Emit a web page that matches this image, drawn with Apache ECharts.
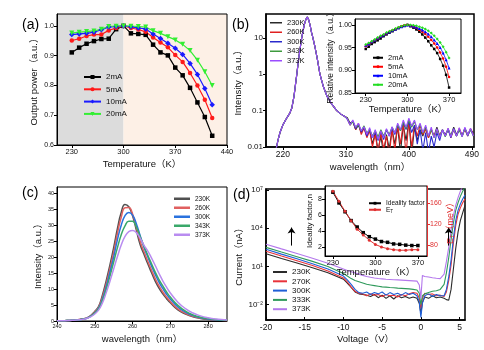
<!DOCTYPE html>
<html>
<head>
<meta charset="utf-8">
<script src="https://cdn.jsdelivr.net/npm/echarts@6/dist/echarts.min.js"></script>
<style>
html,body{margin:0;padding:0;background:#fff}
#main{width:484px;height:350px}
</style>
</head>
<body>
<div id="main"></div>
<script>
// (a) output power vs temperature
var aTemp = [230,240,250,260,270,280,290,300,310,320,330,340,350,360,370,380,390,400,410,420];
var aPow2 = [0.911,0.927,0.940,0.949,0.956,0.957,0.989,1.000,0.975,0.973,0.970,0.937,0.911,0.901,0.860,0.834,0.792,0.743,0.694,0.631];
var aPow5 = [0.951,0.957,0.966,0.971,0.971,0.985,0.993,1.000,0.993,0.988,0.980,0.961,0.944,0.928,0.902,0.879,0.842,0.800,0.752,0.691];
var aPow10 = [0.971,0.973,0.975,0.979,0.987,0.996,0.998,1.000,0.997,0.993,0.990,0.973,0.958,0.942,0.925,0.904,0.874,0.837,0.790,0.735];
var aPow20 = [0.976,0.979,0.981,0.983,0.989,0.998,0.999,1.000,0.999,0.998,0.996,0.984,0.975,0.964,0.953,0.938,0.917,0.885,0.846,0.800];

// (b) spectra, log scale: common peak part + noisy tail of each temperature
var bPeakWave = [210,213,216,220,225,230,233,236,238,240,243,245,247,249,251,253,255,257,259,261,263,266,269,273,278,283,290,297,303,309];
var bPeak = [0.008,0.015,0.025,0.04,0.06,0.085,0.12,0.25,0.5,1,3,5.5,10,16,24,32,37,31,22,14,10,5.5,2.8,1,0.45,0.25,0.15,0.1,0.08,0.068];
var bTailWave = [312,316,320,324,328,332,336,340,344,348,352,356,360,364,368,372,376,380,384,388,392,396,400,404,408,412,416,420,424,428,432,436,440,444,448,452,456,460,464,468,472,476,480,484,488,492];
var bTail230 = [0.065,0.045,0.05,0.03,0.04,0.025,0.035,0.02,0.03,0.012,0.025,0.008,0.02,0.006,0.022,0.009,0.03,0.012,0.035,0.007,0.04,0.015,0.05,0.006,0.035,0.015,0.03,0.02,0.035,0.018,0.03,0.02,0.035,0.02,0.028,0.022,0.03,0.02,0.035,0.022,0.03,0.02,0.033,0.022,0.03,0.025];
var bTail260 = [0.06,0.04,0.052,0.03,0.045,0.022,0.033,0.018,0.028,0.01,0.022,0.007,0.025,0.009,0.02,0.006,0.03,0.008,0.04,0.012,0.045,0.006,0.055,0.01,0.04,0.02,0.04,0.022,0.03,0.018,0.03,0.02,0.028,0.021,0.03,0.02,0.032,0.018,0.03,0.02,0.033,0.021,0.03,0.02,0.032,0.022];
var bTail300 = [0.058,0.042,0.05,0.032,0.042,0.026,0.035,0.02,0.03,0.018,0.026,0.015,0.028,0.016,0.03,0.02,0.033,0.022,0.04,0.028,0.045,0.03,0.05,0.025,0.04,0.012,0.03,0.008,0.025,0.007,0.02,0.01,0.025,0.015,0.03,0.02,0.03,0.018,0.032,0.02,0.03,0.02,0.033,0.02,0.03,0.022];
var bTail343 = [0.062,0.04,0.05,0.035,0.04,0.028,0.038,0.024,0.03,0.02,0.028,0.019,0.03,0.02,0.03,0.022,0.035,0.025,0.04,0.028,0.048,0.032,0.055,0.035,0.05,0.03,0.04,0.024,0.035,0.02,0.03,0.018,0.03,0.02,0.03,0.019,0.032,0.02,0.031,0.02,0.03,0.019,0.032,0.021,0.03,0.02];
var bTail373 = [0.06,0.04,0.055,0.035,0.045,0.028,0.036,0.022,0.034,0.018,0.03,0.016,0.028,0.018,0.032,0.02,0.036,0.024,0.045,0.03,0.055,0.035,0.062,0.038,0.055,0.03,0.045,0.025,0.04,0.02,0.035,0.018,0.032,0.018,0.03,0.02,0.033,0.019,0.032,0.02,0.034,0.019,0.035,0.021,0.033,0.02];

// (b) inset: relative intensity vs temperature
var biTemp = [230,235,240,245,250,255,260,265,270,275,280,285,290,295,300,305,310,315,320,325,330,335,340,345,350,355,360,365,370];
var bi2 = [0.947,0.952,0.958,0.962,0.966,0.970,0.975,0.979,0.983,0.986,0.990,0.993,0.996,0.998,1.000,0.997,0.994,0.990,0.985,0.979,0.972,0.964,0.955,0.947,0.938,0.925,0.910,0.890,0.862];
var bi5 = [0.953,0.957,0.962,0.966,0.970,0.974,0.978,0.981,0.985,0.988,0.991,0.994,0.997,0.999,1.000,0.998,0.996,0.993,0.989,0.985,0.980,0.974,0.967,0.959,0.950,0.939,0.926,0.908,0.885];
var bi10 = [0.955,0.958,0.963,0.967,0.971,0.975,0.978,0.982,0.985,0.988,0.991,0.994,0.996,0.998,1.000,0.999,0.997,0.995,0.992,0.989,0.985,0.980,0.974,0.967,0.959,0.950,0.938,0.923,0.905];
var bi20 = [0.957,0.960,0.964,0.968,0.972,0.976,0.979,0.983,0.986,0.989,0.992,0.995,0.997,0.999,1.000,1.000,0.999,0.998,0.996,0.994,0.991,0.987,0.982,0.976,0.969,0.961,0.952,0.940,0.927];

// (c) spectra, linear scale
var cWave = [240,242,244,246,247,248,249,250,251,252,253,254,255,256,257,258,259,260,261,262,263,264,265,266,267,268,269,270,272,274,276,278,280,282,285];
var c230 = [0.05,0.1,0.2,0.45,0.7,1.0,1.8,3.0,4.5,8.0,12.5,17.5,23,29,34,36.5,35.8,33,28.5,24,21,18,15.2,12.5,10.3,8.5,7,5.7,3.5,2.2,1.3,0.8,0.5,0.3,0.15];
var c260 = [0.05,0.1,0.2,0.45,0.7,1.0,1.7,2.8,4.3,7.4,11.5,16.3,21.5,27.5,32.5,35.5,35.6,33.5,29.5,25,21.8,18.8,16,13.3,11,9.1,7.5,6.1,3.8,2.4,1.45,0.9,0.55,0.35,0.18];
var c300 = [0.05,0.1,0.2,0.42,0.65,0.95,1.6,2.6,4.0,6.8,10.6,15.2,20,25.5,30,33,34,33.2,30.5,26.8,23.2,20.2,17.3,14.6,12.2,10.2,8.4,6.9,4.4,2.8,1.7,1.05,0.65,0.4,0.2];
var c343 = [0.05,0.1,0.2,0.4,0.62,0.9,1.5,2.5,3.8,6.3,9.8,14,18.5,23,27,29.8,31.3,31.3,29.5,26.5,23.5,20.7,18,15.3,13,11,9.1,7.5,4.9,3.1,1.9,1.2,0.75,0.45,0.22];
var c373 = [0.05,0.1,0.2,0.38,0.58,0.85,1.35,2.2,3.4,5.6,8.8,12.4,16.3,20.2,23.8,26.5,28,28.4,27.7,26,23.8,22,19.8,17.4,14.9,12.6,10.6,8.8,5.9,3.9,2.5,1.6,1.0,0.62,0.3];

// (d) I-V curves, values are log10 of current (nA)
var dV = [-20,-18,-16,-14,-12,-10,-9.5,-9,-8.5,-8,-7.5,-7,-6.5,-6,-5.5,-5,-4.5,-4,-3.5,-3,-2.5,-2,-1.5,-1,-0.5,-0.2,0,0.2,0.5,1,1.5,2,2.5,3,3.3,3.6,3.9,4.2,4.5,4.8,5.1,5.4,5.7];
var dLog230 = [2.0,1.63,1.27,0.9,0.5,0.0,-0.3,-0.65,-1.0,-1.15,-1.2,-1.25,-1.35,-1.2,-1.45,-1.25,-1.5,-1.3,-1.55,-1.3,-1.45,-1.35,-1.5,-1.4,-1.5,-1.9,-2.7,-1.8,-1.4,-1.5,-1.3,-1.45,-1.4,-1.5,-1.6,-1.65,-0.8,0.8,2.4,3.7,4.6,5.2,5.8];
var dLog270 = [2.2,1.82,1.45,1.07,0.65,0.1,-0.2,-0.6,-0.95,-1.1,-1.15,-1.3,-1.15,-1.25,-1.2,-1.35,-1.2,-1.3,-1.25,-1.4,-1.2,-1.3,-1.15,-1.05,-1.1,-1.5,-2.3,-1.5,-1.1,-1.2,-1.15,-1.3,-1.25,-1.35,-1.0,-0.1,1.1,2.8,4.2,5.1,5.6,6.0,6.3];
var dLog300 = [2.35,1.97,1.6,1.22,0.8,0.25,-0.05,-0.4,-0.8,-1.05,-1.1,-1.0,-1.2,-1.05,-1.15,-1.0,-1.25,-1.05,-1.2,-1.1,-1.25,-1.05,-1.2,-1.1,-1.3,-1.8,-3.0,-1.9,-1.3,-1.15,-1.35,-1.2,-1.3,-1.3,-0.8,0.2,1.5,3.2,4.6,5.4,5.9,6.3,6.6];
var dLog333 = [2.5,2.13,1.77,1.4,1.0,0.45,0.25,0.05,-0.1,-0.2,-0.3,-0.4,-0.45,-0.5,-0.55,-0.6,-0.62,-0.65,-0.67,-0.7,-0.72,-0.74,-0.76,-0.8,-0.85,-1.1,-2.0,-1.3,-1.15,-1.05,-0.95,-0.9,-0.8,-0.4,0.5,1.7,3.1,4.4,5.4,6.0,6.5,6.9,7.2];
var dLog373 = [2.75,2.38,2.02,1.65,1.25,0.8,0.68,0.58,0.5,0.4,0.3,0.22,0.15,0.1,0.06,0.03,0.0,-0.02,-0.04,-0.05,-0.07,-0.09,-0.11,-0.13,-0.15,-0.45,-1.5,0.3,0.22,0.17,0.12,0.08,0.05,0.4,1.4,2.5,3.8,5.0,5.8,6.4,6.9,7.3,7.6];

// (d) inset
var diTemp = [230,240,250,260,270,280,290,300,310,320,330,340,350,360,370];
var diIdeality = [8.83,7.5,6.4,5.3,4.5,3.8,3.3,3.0,2.7,2.6,2.4,2.35,2.25,2.2,2.2];
var diET = [182,163,144,126,110,99,89,81,76,73,71,70,70,71,71];

// tick labels
var aXTicks = [230,300,370,440], aYTicks = [0.6,0.7,0.8,0.9,1.0];
var bXTicks = [220,310,400,490];
var biXTicks = [230,300,370], biYTicks = [0.85,0.90,0.95,1.00];
var cXTicks = [240,250,260,270,280], cYTicks = [0,5,10,15,20,25,30,35,40];
var dXTicks = [-20,-15,-10,-5,0,5], dYTicks = [-2,1,4,7];
var diXTicks = [230,300,370], diYTicks = [2,4,6,8], diETTicks = [80,120,160];

var FONT = '"Liberation Sans", Arial, "Noto Sans CJK SC", sans-serif';
var SUP = {'-2': '⁻²', '1': '¹', '4': '⁴', '7': '⁷'};

function pairs(xs, ys) {
    return xs.map(function (x, i) { return [x, ys[i]]; });
}
function shortName(name) { return name.split('|')[1]; }

function axisCfg(grid, min, max, ticks, fs, name, gap, z) {
    return {
        type: 'value', gridIndex: grid, min: min, max: max, z: z || 0,
        name: name, nameLocation: 'middle', nameGap: gap,
        nameTextStyle: {fontSize: 9.5, color: '#111', fontFamily: FONT},
        axisLine: {show: true, onZero: false, lineStyle: {color: '#000', width: 1}},
        axisTick: {show: true, length: 3, customValues: ticks, lineStyle: {color: '#000'}},
        axisLabel: {customValues: ticks, fontSize: fs, color: '#111', fontFamily: FONT, margin: 3},
        splitLine: {show: false}
    };
}

var xAxes = [
    axisCfg(0, 210, 440, aXTicks, 7.5, 'Temperature（K）', 15, 3),
    axisCfg(1, 196, 493, bXTicks, 8.5, 'wavelength（nm）', 16),
    axisCfg(2, 212, 390, biXTicks, 7.5, 'Temperature（K）', 11.5, 6),
    axisCfg(3, 240, 285, cXTicks, 5.5, 'wavelength（nm）', 14),
    axisCfg(4, -20, 5.7, dXTicks, 8.5, 'Voltage（V）', 15),
    axisCfg(5, 217, 385, diXTicks, 7.5, 'Temperature（K）', 12, 6)
];
var yAxes = [
    axisCfg(0, 0.6, 1.04, aYTicks, 7, 'Output power（a.u.）', 18, 3),
    {
        type: 'log', gridIndex: 1, min: 0.01, max: 45, logBase: 10,
        name: 'Intensity（a.u.）', nameLocation: 'middle', nameGap: 12,
        nameTextStyle: {fontSize: 9.5, color: '#111', fontFamily: FONT},
        axisLine: {show: true, lineStyle: {color: '#000', width: 1.5}},
        axisTick: {show: true, length: 3, lineStyle: {color: '#000'}},
        axisLabel: {fontSize: 8, color: '#111', fontFamily: FONT, margin: 3, showMaxLabel: false,
            formatter: function (v) { return String(+v.toPrecision(2)); }},
        splitLine: {show: false}
    },
    axisCfg(2, 0.85, 1.013, biYTicks, 7, 'Relative intensity（a.u.）', 13.5, 6),
    axisCfg(3, 0, 42, cYTicks, 5.5, 'Intensity（a.u.）', 14),
    axisCfg(4, -3.2, 7.08, dYTicks, 8, 'Current（nA）', 14),
    axisCfg(5, 0.9, 9.6, diYTicks, 7, 'Ideality factor,n', 9.5, 6),
    axisCfg(5, 59, 192, diETTicks, 7, '{e|E}{t|T}（meV）', 4, 6)
];
yAxes.forEach(function (ax) { ax.nameRotate = 90; });
yAxes[0].axisLabel.formatter = function (v) { return v.toFixed(1); };
yAxes[2].axisLabel.formatter = function (v) { return v.toFixed(2); };
yAxes[4].axisLabel.formatter = function (v) { return '10' + SUP[String(v)]; };
yAxes[2].nameTextStyle.fontSize = 8.5;
yAxes[5].nameTextStyle.fontSize = 8;
yAxes[6].position = 'right';
yAxes[6].axisLine.lineStyle.color = '#e03030';
yAxes[6].axisTick.lineStyle.color = '#e03030';
yAxes[6].axisLabel.color = '#e03030';
yAxes[6].nameTextStyle = {fontSize: 9, color: '#e03030', fontFamily: FONT,
    rich: {e: {fontSize: 9, color: '#e03030'}, t: {fontSize: 6, color: '#e03030', padding: [5, 0, 0, 0]}}};
xAxes[1].axisLine.lineStyle.width = 1.5;
xAxes[4].axisLine.lineStyle.width = 1.5;
yAxes[4].axisLine.lineStyle.width = 1.5;
xAxes[4].axisTick.inside = true;
yAxes[4].axisTick.inside = true;

var series = [];
function addLine(name, axis, yAxis, data, color, width, extra) {
    var s = {
        type: 'line', name: name, xAxisIndex: axis, yAxisIndex: yAxis, data: data,
        symbol: 'none', lineStyle: {color: color, width: width}, itemStyle: {color: color},
        silent: true
    };
    Object.keys(extra || {}).forEach(function (k) { s[k] = extra[k]; });
    series.push(s);
    return s;
}

// (a)
var aFirst = addLine('a|2mA', 0, 0, pairs(aTemp, aPow2), '#000', 1.2, {symbol: 'rect', symbolSize: 4.5});
aFirst.markArea = {
    silent: true, z: 1,
    data: [
        [{xAxis: 210, itemStyle: {color: '#dcdcdc'}}, {xAxis: 300}],
        [{xAxis: 300, itemStyle: {color: '#fdf0e6'}}, {xAxis: 440}]
    ]
};
addLine('a|5mA', 0, 0, pairs(aTemp, aPow5), '#ff1a1a', 1.2, {symbol: 'circle', symbolSize: 4.5});
addLine('a|10mA', 0, 0, pairs(aTemp, aPow10), '#1a1aff', 1.2, {symbol: 'diamond', symbolSize: 5.5});
addLine('a|20mA', 0, 0, pairs(aTemp, aPow20), '#33ee33', 1.2, {symbol: 'triangle', symbolSize: 5, symbolRotate: 180});

// (b)
var bWave = bPeakWave.concat(bTailWave);
addLine('b|230K', 1, 1, pairs(bWave, bPeak.concat(bTail230)), '#2a2a2a', 1.1);
addLine('b|260K', 1, 1, pairs(bWave, bPeak.concat(bTail260)), '#e02020', 1.1);
addLine('b|300K', 1, 1, pairs(bWave, bPeak.concat(bTail300)), '#2a2acc', 1.1);
addLine('b|343K', 1, 1, pairs(bWave, bPeak.concat(bTail343)), '#3d9a3d', 1.1);
addLine('b|373K', 1, 1, pairs(bWave, bPeak.concat(bTail373)), '#9b4dff', 1.1);

// (b) inset
addLine('bi|2mA', 2, 2, pairs(biTemp, bi2), '#000', 0.8, {symbol: 'rect', symbolSize: 2.5, z: 5});
addLine('bi|5mA', 2, 2, pairs(biTemp, bi5), '#ff0000', 0.8, {symbol: 'circle', symbolSize: 2.5, z: 5});
addLine('bi|10mA', 2, 2, pairs(biTemp, bi10), '#0000ff', 0.8, {symbol: 'triangle', symbolSize: 3, z: 5});
addLine('bi|20mA', 2, 2, pairs(biTemp, bi20), '#22dd22', 0.8, {symbol: 'diamond', symbolSize: 3, z: 5});

// (c)
addLine('c|230K', 3, 3, pairs(cWave, c230), '#505050', 1.5, {smooth: true});
addLine('c|260K', 3, 3, pairs(cWave, c260), '#e06060', 1.5, {smooth: true});
addLine('c|300K', 3, 3, pairs(cWave, c300), '#2a72de', 1.5, {smooth: true});
addLine('c|343K', 3, 3, pairs(cWave, c343), '#3aa86a', 1.5, {smooth: true});
addLine('c|373K', 3, 3, pairs(cWave, c373), '#b98cf0', 1.5, {smooth: true});

// (d)
var dFirst = addLine('d|230K', 4, 4, pairs(dV, dLog230), '#2b2b2b', 1.1);
dFirst.markLine = {
    silent: true, symbol: ['none', 'arrow'], symbolSize: 6,
    lineStyle: {color: '#000', width: 1, type: 'solid'}, label: {show: false},
    data: [
        [{coord: [-16.7, 2.64]}, {coord: [-16.7, 4.05]}],
        [{coord: [3.6, 2.64]}, {coord: [3.6, 4.05]}]
    ]
};
addLine('d|270K', 4, 4, pairs(dV, dLog270), '#e8333a', 1.1);
addLine('d|300K', 4, 4, pairs(dV, dLog300), '#1f5fd6', 1.1);
addLine('d|333K', 4, 4, pairs(dV, dLog333), '#2f9a5b', 1.1);
addLine('d|373K', 4, 4, pairs(dV, dLog373), '#b478ec', 1.1);

// (d) inset
addLine('di|Ideality factor', 5, 5, pairs(diTemp, diIdeality), '#000', 1, {symbol: 'rect', symbolSize: 3.5, z: 5});
addLine('di|ET', 5, 6, pairs(diTemp, diET), '#e03030', 1, {symbol: 'circle', symbolSize: 3, z: 5});

// icon: null keeps the line+marker icon, 'rect' gives a plain line swatch
function legendCfg(names, left, top, w, h, gap, fs, icon, z) {
    var cfg = {
        data: names, left: left, top: top, orient: 'vertical', padding: 0,
        itemWidth: w, itemHeight: h, itemGap: gap, selectedMode: false, z: z || 4,
        formatter: function (n) { var s = shortName(n); return s === 'ET' ? '{e|E}{t|T}' : s; },
        textStyle: {fontSize: fs, lineHeight: fs, color: '#111', fontFamily: FONT,
            rich: {e: {fontSize: fs, color: '#111'}, t: {fontSize: fs * 0.7, color: '#111', padding: [3, 0, 0, 0]}}}
    };
    if (icon) cfg.icon = icon;
    return cfg;
}

var option = {
    animation: false,
    textStyle: {fontFamily: FONT},
    grid: [
        {left: 57, top: 14, width: 170, height: 131, show: true, borderColor: '#000', borderWidth: 1, z: 2},
        {left: 266, top: 14, width: 208, height: 133, show: true, borderColor: '#000', borderWidth: 1.5},
        {left: 355, top: 19, width: 106, height: 74, show: true, backgroundColor: '#fff', borderColor: '#000', borderWidth: 1, z: 4},
        {left: 57, top: 187, width: 170, height: 134, show: true, borderColor: '#000', borderWidth: 1},
        {left: 266, top: 189, width: 199, height: 131, show: true, borderColor: '#000', borderWidth: 1.5},
        {left: 325, top: 186, width: 102, height: 70, show: true, backgroundColor: '#fff', borderColor: '#000', borderWidth: 1, z: 4}
    ],
    xAxis: xAxes,
    yAxis: yAxes,
    legend: [
        legendCfg(['a|2mA', 'a|5mA', 'a|10mA', 'a|20mA'], 83, 73, 17, 5, 4.3, 8),
        legendCfg(['b|230K', 'b|260K', 'b|300K', 'b|343K', 'b|373K'], 270, 19, 12, 1.5, 2, 7.5, 'rect'),
        legendCfg(['bi|2mA', 'bi|5mA', 'bi|10mA', 'bi|20mA'], 372, 54, 10, 3.5, 1.5, 7.5, null, 7),
        legendCfg(['c|230K', 'c|260K', 'c|300K', 'c|343K', 'c|373K'], 174, 195.5, 16, 2.5, 2.5, 6.5, 'rect'),
        legendCfg(['d|230K', 'd|270K', 'd|300K', 'd|333K', 'd|373K'], 273, 268, 14, 2, 1.3, 8, 'rect'),
        legendCfg(['di|Ideality factor', 'di|ET'], 368, 200, 12, 3.5, 0, 6.5, null, 7)
    ],
    graphic: [
        {type: 'text', left: 22, top: 18, style: {text: '(a)', fontSize: 14, fontFamily: FONT, fill: '#000'}},
        {type: 'text', left: 232, top: 18, style: {text: '(b)', fontSize: 14, fontFamily: FONT, fill: '#000'}},
        {type: 'text', left: 22, top: 186, style: {text: '(c)', fontSize: 14, fontFamily: FONT, fill: '#000'}},
        {type: 'text', left: 233, top: 188, style: {text: '(d)', fontSize: 14, fontFamily: FONT, fill: '#000'}}
    ],
    series: series
};

var chart = echarts.init(document.getElementById('main'));
chart.setOption(option);
</script>
</body>
</html>
